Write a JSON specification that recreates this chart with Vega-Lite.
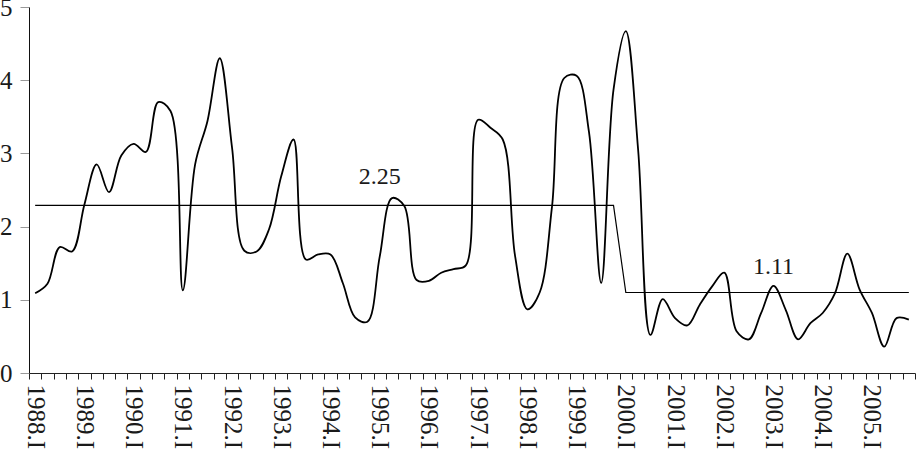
{
  "$schema": "https://vega.github.io/schema/vega-lite/v6.json",
  "autosize": {"type": "none"},
  "padding": {"left": 29, "top": 7, "right": 1, "bottom": 77},
  "width": 886,
  "height": 366,
  "background": "white",
  "config": {"view": {"stroke": null}},
  "datasets": {
    "main": [
      {"q": "1988.I", "v": 1.09, "m": 2.29},
      {"q": "1988.II", "v": 1.22, "m": 2.29},
      {"q": "1988.III", "v": 1.72, "m": 2.29},
      {"q": "1988.IV", "v": 1.66, "m": 2.29},
      {"q": "1989.I", "v": 2.3, "m": 2.29},
      {"q": "1989.II", "v": 2.85, "m": 2.29},
      {"q": "1989.III", "v": 2.47, "m": 2.29},
      {"q": "1989.IV", "v": 2.97, "m": 2.29},
      {"q": "1990.I", "v": 3.13, "m": 2.29},
      {"q": "1990.II", "v": 3.02, "m": 2.29},
      {"q": "1990.III", "v": 3.7, "m": 2.29},
      {"q": "1990.IV", "v": 3.58, "m": 2.29},
      {"q": "1991.I", "v": 1.13, "m": 2.29},
      {"q": "1991.II", "v": 2.85, "m": 2.29},
      {"q": "1991.III", "v": 3.44, "m": 2.29},
      {"q": "1991.IV", "v": 4.3, "m": 2.29},
      {"q": "1992.I", "v": 3.08, "m": 2.29},
      {"q": "1992.II", "v": 1.67, "m": 2.29},
      {"q": "1992.III", "v": 1.66, "m": 2.29},
      {"q": "1992.IV", "v": 1.96, "m": 2.29},
      {"q": "1993.I", "v": 2.69, "m": 2.29},
      {"q": "1993.II", "v": 3.19, "m": 2.29},
      {"q": "1993.III", "v": 1.55, "m": 2.29},
      {"q": "1993.IV", "v": 1.62, "m": 2.29},
      {"q": "1994.I", "v": 1.62, "m": 2.29},
      {"q": "1994.II", "v": 1.23, "m": 2.29},
      {"q": "1994.III", "v": 0.76, "m": 2.29},
      {"q": "1994.IV", "v": 0.7, "m": 2.29},
      {"q": "1995.I", "v": 1.59, "m": 2.29},
      {"q": "1995.II", "v": 2.39, "m": 2.29},
      {"q": "1995.III", "v": 2.28, "m": 2.29},
      {"q": "1995.IV", "v": 1.27, "m": 2.29},
      {"q": "1996.I", "v": 1.26, "m": 2.29},
      {"q": "1996.II", "v": 1.37, "m": 2.29},
      {"q": "1996.III", "v": 1.42, "m": 2.29},
      {"q": "1996.IV", "v": 1.47, "m": 2.29},
      {"q": "1997.I", "v": 3.46, "m": 2.29},
      {"q": "1997.II", "v": 3.35, "m": 2.29},
      {"q": "1997.III", "v": 3.19, "m": 2.29},
      {"q": "1997.IV", "v": 1.6, "m": 2.29},
      {"q": "1998.I", "v": 0.87, "m": 2.29},
      {"q": "1998.II", "v": 1.1, "m": 2.29},
      {"q": "1998.III", "v": 2.27, "m": 2.29},
      {"q": "1998.IV", "v": 4.03, "m": 2.29},
      {"q": "1999.I", "v": 4.06, "m": 2.29},
      {"q": "1999.II", "v": 3.3, "m": 2.29},
      {"q": "1999.III", "v": 1.23, "m": 2.29},
      {"q": "1999.IV", "v": 3.87, "m": 2.29},
      {"q": "2000.I", "v": 4.67, "m": 1.1},
      {"q": "2000.II", "v": 3.05, "m": 1.1},
      {"q": "2000.III", "v": 0.52, "m": 1.1},
      {"q": "2000.IV", "v": 1.01, "m": 1.1},
      {"q": "2001.I", "v": 0.75, "m": 1.1},
      {"q": "2001.II", "v": 0.65, "m": 1.1},
      {"q": "2001.III", "v": 0.93, "m": 1.1},
      {"q": "2001.IV", "v": 1.18, "m": 1.1},
      {"q": "2002.I", "v": 1.37, "m": 1.1},
      {"q": "2002.II", "v": 0.57, "m": 1.1},
      {"q": "2002.III", "v": 0.46, "m": 1.1},
      {"q": "2002.IV", "v": 0.82, "m": 1.1},
      {"q": "2003.I", "v": 1.19, "m": 1.1},
      {"q": "2003.II", "v": 0.86, "m": 1.1},
      {"q": "2003.III", "v": 0.46, "m": 1.1},
      {"q": "2003.IV", "v": 0.68, "m": 1.1},
      {"q": "2004.I", "v": 0.82, "m": 1.1},
      {"q": "2004.II", "v": 1.09, "m": 1.1},
      {"q": "2004.III", "v": 1.63, "m": 1.1},
      {"q": "2004.IV", "v": 1.14, "m": 1.1},
      {"q": "2005.I", "v": 0.82, "m": 1.1},
      {"q": "2005.II", "v": 0.36, "m": 1.1},
      {"q": "2005.III", "v": 0.75, "m": 1.1},
      {"q": "2005.IV", "v": 0.73, "m": 1.1}
    ],
    "notes": [
      {"q": "1995.I", "v": 2.68, "t": "2.25"},
      {"q": "2003.I", "v": 1.45, "t": "1.11"}
    ]
  },
  "encoding": {
    "x": {
      "field": "q",
      "type": "ordinal",
      "bandPosition": 0.5,
      "title": null,
      "scale": {"type": "band", "paddingInner": 0, "paddingOuter": 0},
      "axis": {
        "tickBand": "extent",
        "labelAngle": 90,
        "labelAlign": "left",
        "labelBaseline": "middle",
        "labelExpr": "test(/\\.I$/, datum.label) ? datum.label : ''",
        "labelOverlap": false,
        "labelBound": false,
        "labelFont": "Liberation Serif",
        "labelFontSize": 25,
        "labelColor": "#1a1a1a",
        "labelPadding": 5,
        "tickSize": 6,
        "tickColor": "#222",
        "domainColor": "#222",
        "grid": false
      }
    },
    "y": {
      "type": "quantitative",
      "title": null,
      "scale": {"domain": [0, 5], "nice": false},
      "axis": {
        "values": [0, 1, 2, 3, 4, 5],
        "format": "d",
        "grid": false,
        "tickSize": 9,
        "tickColor": "#999",
        "domainColor": "#111",
        "labelFont": "Liberation Serif",
        "labelFontSize": 25,
        "labelColor": "#1a1a1a",
        "labelPadding": 8,
        "labelBound": false
      }
    }
  },
  "layer": [
    {
      "data": {"name": "main"},
      "mark": {"type": "line", "interpolate": "catmull-rom", "color": "black", "strokeWidth": 1.8},
      "encoding": {"y": {"field": "v", "type": "quantitative"}}
    },
    {
      "data": {"name": "main"},
      "mark": {"type": "line", "interpolate": "linear", "color": "black", "strokeWidth": 1.2},
      "encoding": {"y": {"field": "m", "type": "quantitative"}}
    },
    {
      "data": {"name": "notes"},
      "mark": {"type": "text", "font": "Liberation Serif", "fontSize": 24, "color": "#1a1a1a", "align": "center", "baseline": "middle"},
      "encoding": {"y": {"field": "v", "type": "quantitative"}, "text": {"field": "t"}}
    }
  ]
}
